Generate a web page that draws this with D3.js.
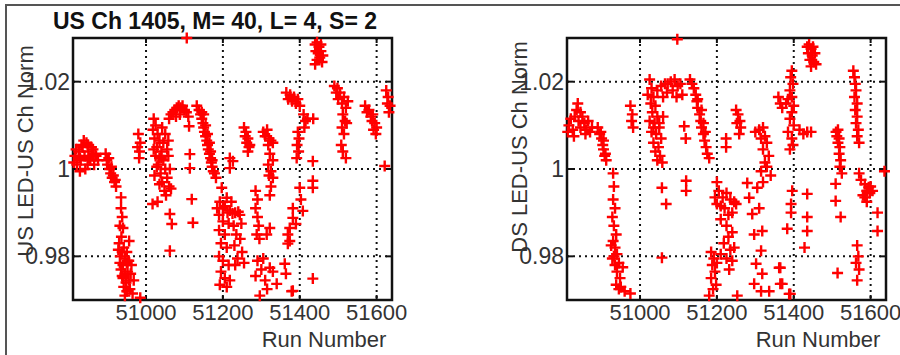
<!DOCTYPE html>
<html><head><meta charset="utf-8">
<script src="https://cdn.jsdelivr.net/npm/d3@7"></script>
<style>body{margin:0;background:#fff;overflow:hidden}</style></head><body>
<svg id="c" width="900" height="355"></svg>
<script>
const titleText = "US Ch 1405, M= 40, L= 4, S= 2";
const xLabel = "Run Number";
const yLabels = ["US LED-US Ch Norm", "DS LED-US Ch Norm"];
const xTicks = [51000, 51200, 51400, 51600];
const yTicks = [0.98, 1, 1.02];
const xDomain = [50810, 51640];
const yDomain = [0.97, 1.03];

const usPoints = [
[50815,1.003],[50818,1.0045],[50820,1.001],[50825,1.004],[50828,1.0025],[50830,1.002],[50832,1.0055],[50835,1.005],[50838,1.0065],[50840,1.003],[50842,1.0],[50845,1.006],[50848,1.001],[50850,1.004],[50852,1.0025],[50855,1.002],[50858,1.005],[50860,1.003],[50862,1.0045],[50865,1.001],[50868,1.0035],[50870,1.003],[50875,1.002],[50828,0.9995],[50812,1.0015],[50848,1.0055],
[50895,1.0035],[50898,1.002],[50900,1.001],[50903,1.0025],[50905,1.000],[50908,0.999],[50910,1.0005],[50912,0.998],[50915,0.9985],[50918,0.997],[50920,0.9975],[50922,0.996],
[50935,0.9935],[50935,0.991],[50938,0.989],[50932,0.987],[50940,0.9865],[50936,0.9845],[50930,0.983],[50942,0.982],[50938,0.981],[50933,0.980],[50945,0.9795],[50940,0.978],[50950,0.9785],[50935,0.977],[50945,0.976],[50952,0.9765],[50940,0.975],[50948,0.974],[50955,0.9745],[50942,0.973],[50950,0.972],[50958,0.9725],[50945,0.971],[50965,0.9715],[50985,0.9705],[50960,0.976],[50955,0.979],[50950,0.981],[50932,0.9785],[50938,0.9755],[50962,0.978],[50968,0.9745],[50928,0.9815],[50956,0.9835],
[50980,1.008],[50985,1.006],[50978,1.005],[50983,1.004],[50982,1.0025],
[51020,1.0115],[51025,1.010],[51018,1.009],[51030,1.008],[51022,1.007],[51035,1.0065],[51028,1.005],[51040,1.004],[51025,1.003],[51045,1.002],[51032,1.001],[51050,1.000],[51038,0.999],[51055,0.998],[51042,0.997],[51060,0.996],[51048,0.995],[51052,0.994],[51065,0.9955],[51030,0.9925],[51022,0.9985],[51040,1.0025],[51058,1.003],[51045,1.006],[51035,1.0025],[51050,1.008],[51028,1.0005],[51062,1.0],[51055,1.0045],[51017,0.992],[51062,0.9897],[51067,0.9874],[51062,0.9813],[51042,1.0095],[51020,1.0045],[51058,1.0065],[51035,0.9965],
[51060,1.0115],[51065,1.0125],[51070,1.013],[51075,1.0135],[51080,1.014],[51085,1.0145],[51090,1.014],[51095,1.0145],[51100,1.0135],[51105,1.013],[51110,1.012],[51078,1.012],[51088,1.0125],[51106,1.030],[51112,1.0098],[51114,1.0034],[51114,1.0002],[51119,0.9931],[51122,0.9877],
[51132,1.0145],[51138,1.0135],[51142,1.0125],[51145,1.0115],[51148,1.0105],[51150,1.0095],[51152,1.0085],[51155,1.0075],[51158,1.0065],[51160,1.0055],[51162,1.0045],[51165,1.0035],[51168,1.0025],[51170,1.0015],[51172,1.0005],[51175,0.9995],[51178,0.999],[51182,0.998],[51150,1.0125],[51145,1.013],[51155,1.010],[51160,1.008],[51165,1.006],[51168,1.004],[51172,1.002],
[51197,0.9957],[51210,0.9934],[51192,0.9925],[51200,0.991],[51205,0.9915],[51212,0.990],[51218,0.9905],[51225,0.9898],[51232,0.990],[51240,0.9902],[51244,0.9895],[51190,0.9895],[51200,0.988],[51215,0.9875],[51190,0.986],[51205,0.985],[51195,0.983],[51210,0.982],[51190,0.980],[51200,0.979],[51215,0.978],[51195,0.9765],[51205,0.975],[51192,0.9735],[51210,0.973],[51228,0.987],[51235,0.985],[51245,0.984],[51230,0.9825],[51250,0.981],[51238,0.9795],[51255,0.9785],[51232,0.978],[51218,1.0025],[51218,1.0002],[51226,1.0018],[51218,0.9745],[51185,0.991],[51222,0.9925],[51248,0.9875],
[51255,1.0095],[51260,1.0085],[51258,1.0075],[51265,1.007],[51262,1.006],[51268,1.005],[51270,1.0055],[51265,1.004],
[51305,1.0085],[51315,1.009],[51310,1.0075],[51320,1.007],[51325,1.0065],[51318,1.0055],[51330,1.006],[51322,1.0035],[51330,1.002],[51318,1.001],[51325,0.9995],[51330,0.998],[51320,0.9985],[51325,0.996],[51322,0.994],[51285,0.995],[51290,0.993],[51285,0.991],[51290,0.989],[51293,0.987],[51288,0.985],[51295,0.984],[51314,0.985],[51322,0.9865],[51290,0.979],[51300,0.977],[51285,0.9755],[51310,0.9745],[51322,0.9774],[51296,0.971],[51340,0.9737],[51315,0.9725],[51305,0.9795],[51330,0.9765],
[51365,1.0175],[51370,1.016],[51375,1.017],[51380,1.0155],[51385,1.0165],[51390,1.015],[51395,1.016],[51400,1.0145],[51410,1.0125],[51415,1.011],[51420,1.0115],[51435,1.0115],[51412,1.0095],[51395,1.0085],[51398,1.007],[51393,1.0055],[51397,1.004],[51392,1.0025],[51434,1.0018],[51434,0.9973],[51434,0.9957],[51400,0.9957],[51403,0.993],[51408,0.9904],[51390,0.9874],[51369,0.985],[51369,0.9829],[51364,0.976],[51382,0.9721],[51434,0.9749],[51382,0.991],[51382,0.9888],[51374,0.9865],[51374,0.9835],[51361,0.9783],[51379,0.972],
[51440,1.0285],[51445,1.029],[51450,1.028],[51455,1.0285],[51442,1.027],[51448,1.0265],[51455,1.027],[51460,1.026],[51445,1.025],[51452,1.0255],[51458,1.0245],[51440,1.024],
[51490,1.019],[51495,1.0175],[51500,1.016],[51505,1.0175],[51510,1.015],[51515,1.0165],[51520,1.014],[51512,1.0125],[51518,1.011],[51510,1.0095],[51522,1.0105],[51515,1.008],[51508,1.0055],[51512,1.004],[51520,1.0025],[51498,1.0185],[51525,1.0155],
[51570,1.0145],[51575,1.013],[51580,1.0135],[51585,1.012],[51590,1.0125],[51588,1.011],[51595,1.0105],[51592,1.009],[51600,1.0095],[51598,1.008],
[51625,1.018],[51630,1.0165],[51628,1.015],[51635,1.0145],[51632,1.013],[51621,1.0007]
];

const dsPoints = [
[50815,1.010],[50820,1.0115],[50825,1.009],[50830,1.012],[50835,1.0135],[50840,1.011],[50845,1.0095],[50850,1.012],[50855,1.0105],[50860,1.009],[50865,1.011],[50870,1.0085],[50838,1.015],[50845,1.013],[50858,1.008],[50828,1.0075],[50875,1.0095],[50812,1.0085],
[50890,1.0095],[50895,1.008],[50900,1.007],[50903,1.0055],[50905,1.0045],[50908,1.003],[50912,1.002],[50898,1.0085],[50905,1.0065],[50910,1.0035],
[50930,0.999],[50932,0.996],[50930,0.993],[50935,0.991],[50928,0.989],[50932,0.987],[50938,0.985],[50930,0.9835],[50935,0.982],[50940,0.9805],[50928,0.9795],[50935,0.978],[50945,0.9785],[50940,0.9765],[50948,0.975],[50938,0.9735],[50950,0.973],[50960,0.972],[50975,0.9715],[50945,0.9725],[50932,0.980],[50955,0.9775],[50925,0.9825],
[50975,1.0145],[50980,1.0125],[50978,1.011],[50982,1.0095],
[51025,1.0205],[51030,1.0185],[51020,1.017],[51035,1.0165],[51028,1.015],[51040,1.0145],[51032,1.013],[51045,1.012],[51025,1.011],[51038,1.0105],[51050,1.0095],[51030,1.0085],[51042,1.008],[51055,1.007],[51035,1.006],[51048,1.005],[51040,1.004],[51052,1.003],[51045,1.002],[51058,1.0015],[51050,1.0105],[51060,1.012],[51035,1.0095],[51057,0.9957],[51068,0.992],[51057,0.9797],[51120,0.9973],[51120,0.995],
[51045,1.018],[51055,1.019],[51065,1.0195],[51072,1.0195],[51080,1.020],[51090,1.0205],[51098,1.019],[51105,1.0195],[51085,1.018],[51070,1.0175],[51095,1.0165],[51110,1.017],[51060,1.0165],[51097,1.0297],[51115,1.0098],[51119,1.007],
[51130,1.0205],[51135,1.0195],[51140,1.0185],[51145,1.017],[51148,1.0155],[51150,1.014],[51155,1.0125],[51158,1.011],[51160,1.0095],[51165,1.008],[51168,1.0065],[51172,1.005],[51175,1.0035],[51180,1.0025],[51150,1.016],[51160,1.0135],[51170,1.0085],[51165,1.0105],[51224,1.007],[51224,1.005],
[51200,0.997],[51205,0.995],[51215,0.9935],[51225,0.9945],[51235,0.993],[51245,0.9925],[51210,0.9915],[51220,0.991],[51230,0.9895],[51240,0.990],[51250,0.992],[51200,0.992],[51195,0.9935],[51210,0.9885],[51225,0.987],[51240,0.9855],[51230,0.9845],[51218,0.983],[51235,0.9815],[51245,0.982],[51210,0.9805],[51225,0.9795],[51240,0.979],[51232,0.977],[51200,0.9785],[51185,0.981],[51192,0.9795],[51188,0.978],[51195,0.9765],[51185,0.975],[51198,0.9735],[51190,0.9725],[51180,0.971],[51253,0.971],
[51250,1.0135],[51255,1.0125],[51260,1.011],[51252,1.0105],[51262,1.0095],[51258,1.008],
[51300,1.0085],[51310,1.009],[51320,1.0095],[51315,1.007],[51325,1.0075],[51330,1.006],[51320,1.0045],[51335,1.003],[51325,1.0015],[51330,1.0005],[51315,0.9995],[51340,0.9985],[51320,0.997],[51279,0.9968],[51284,0.9934],[51292,0.9897],[51297,0.985],[51305,0.9957],[51310,0.991],[51318,0.9858],[51315,0.9813],[51302,0.9783],[51318,0.976],[51297,0.9737],[51315,0.972],[51336,0.972],[51362,0.9774],[51370,0.9737],[51388,0.9714],
[51395,1.0225],[51392,1.021],[51398,1.0195],[51390,1.018],[51395,1.0165],[51385,1.016],[51400,1.0145],[51380,1.015],[51395,1.013],[51390,1.0115],[51400,1.010],[51385,1.0085],[51395,1.007],[51398,1.0055],[51390,1.0045],[51360,1.0165],[51365,1.015],[51370,1.014],[51415,1.009],[51425,1.008],[51435,1.0085],[51445,1.0085],[51396,0.995],[51393,0.992],[51393,0.990],[51435,0.9943],[51435,0.989],[51435,0.9858],[51383,0.9863],[51428,0.982],[51365,0.9774],[51365,0.9737],[51391,0.9714],
[51435,1.028],[51440,1.0285],[51445,1.0275],[51450,1.028],[51438,1.0265],[51448,1.026],[51455,1.0265],[51442,1.025],[51452,1.0245],[51445,1.0235],[51458,1.024],
[51510,1.0085],[51515,1.009],[51512,1.0075],[51518,1.007],[51515,1.006],[51520,1.005],[51518,1.0035],[51522,1.002],[51520,1.0005],[51525,0.999],[51509,0.9966],[51509,0.9927],[51522,0.989],[51514,0.9762],
[51555,1.0225],[51558,1.021],[51560,1.0195],[51562,1.018],[51558,1.0165],[51565,1.015],[51560,1.0135],[51565,1.012],[51562,1.0105],[51568,1.009],[51565,1.0075],[51570,1.006],[51585,0.9965],[51590,0.995],[51595,0.9958],[51600,0.996],[51580,0.994],[51585,0.9935],[51598,0.9945],[51575,0.9975],[51570,0.999],[51605,0.995],[51590,0.9925],[51565,0.9825],[51568,0.980],[51562,0.9785],[51570,0.977],[51565,0.9745],[51636,0.9995],[51618,0.990],[51618,0.9858]
];

const svg = d3.select("#c");
svg.append("rect").attr("width",900).attr("height",355).attr("fill","#fff");
svg.append("line").attr("x1",5).attr("x2",900).attr("y1",5).attr("y2",5).attr("stroke","#555").attr("stroke-width",2);
svg.append("line").attr("x1",6).attr("x2",6).attr("y1",5).attr("y2",355).attr("stroke","#555").attr("stroke-width",2);

const FONT = "'Liberation Sans', Arial, Helvetica, sans-serif";
const yTop = 38, yBottom = 300;
const panels = [
  {x0:73, x1:392, data:usPoints, ylab:yLabels[0], ylabX:33, ylabY:151, xlabX:324},
  {x0:567, x1:886, data:dsPoints, ylab:yLabels[1], ylabX:527, ylabY:147, xlabX:818}
];

panels.forEach(p => {
  const x = d3.scaleLinear().domain(xDomain).range([p.x0, p.x1]);
  const y = d3.scaleLinear().domain(yDomain).range([yBottom, yTop]);
  const g = svg.append("g");
  g.selectAll(".gx").data(xTicks).join("line")
    .attr("x1",d=>x(d)).attr("x2",d=>x(d)).attr("y1",yTop).attr("y2",yBottom)
    .attr("stroke","#111").attr("stroke-width",2).attr("stroke-dasharray","2,4");
  g.selectAll(".gy").data(yTicks).join("line")
    .attr("x1",p.x0).attr("x2",p.x1).attr("y1",d=>y(d)).attr("y2",d=>y(d))
    .attr("stroke","#111").attr("stroke-width",2).attr("stroke-dasharray","2,4");
  g.append("rect").attr("x",p.x0).attr("y",yTop).attr("width",p.x1-p.x0).attr("height",yBottom-yTop)
    .attr("fill","none").attr("stroke","#111").attr("stroke-width",2.5);
  xTicks.forEach(t => {
    g.append("line").attr("x1",x(t)).attr("x2",x(t)).attr("y1",yBottom).attr("y2",yBottom-5).attr("stroke","#111").attr("stroke-width",2);
    g.append("line").attr("x1",x(t)).attr("x2",x(t)).attr("y1",yTop).attr("y2",yTop+5).attr("stroke","#111").attr("stroke-width",2);
  });
  yTicks.forEach(t => {
    g.append("line").attr("x1",p.x0).attr("x2",p.x0+6).attr("y1",y(t)).attr("y2",y(t)).attr("stroke","#111").attr("stroke-width",2);
    g.append("line").attr("x1",p.x1).attr("x2",p.x1-6).attr("y1",y(t)).attr("y2",y(t)).attr("stroke","#111").attr("stroke-width",2);
  });
  g.selectAll(".xt").data(xTicks).join("text")
    .attr("x",d=>x(d)).attr("y",320).attr("text-anchor","middle")
    .attr("font-family",FONT).attr("font-size",22).attr("fill","#333").text(d=>String(d));
  g.selectAll(".yt").data(yTicks).join("text")
    .attr("x",p.x0-3).attr("y",d=>y(d)+8).attr("text-anchor","end")
    .attr("font-family",FONT).attr("font-size",23).attr("fill","#333").text(d=>String(d));
  g.append("text").attr("x",p.xlabX).attr("y",347).attr("text-anchor","middle")
    .attr("font-family",FONT).attr("font-size",22).attr("fill","#333").text(xLabel);
  g.append("text").attr("transform",`translate(${p.ylabX},${p.ylabY}) rotate(-90)`)
    .attr("text-anchor","middle").attr("font-family",FONT).attr("font-size",22).attr("fill","#333").text(p.ylab);
  g.selectAll(".pt").data(p.data).join("path")
    .attr("d", d => { const cx = x(d[0]), cy = y(d[1]); return `M${cx-5.5},${cy}H${cx+5.5}M${cx},${cy-5.5}V${cy+5.5}`; })
    .attr("stroke","#ff0000").attr("stroke-width",2.4).attr("fill","none");
});

svg.append("text").attr("x",215).attr("y",29).attr("text-anchor","middle")
  .attr("font-family",FONT).attr("font-weight","bold").attr("font-size",23).attr("fill","#111").text(titleText);
</script>
</body></html>
